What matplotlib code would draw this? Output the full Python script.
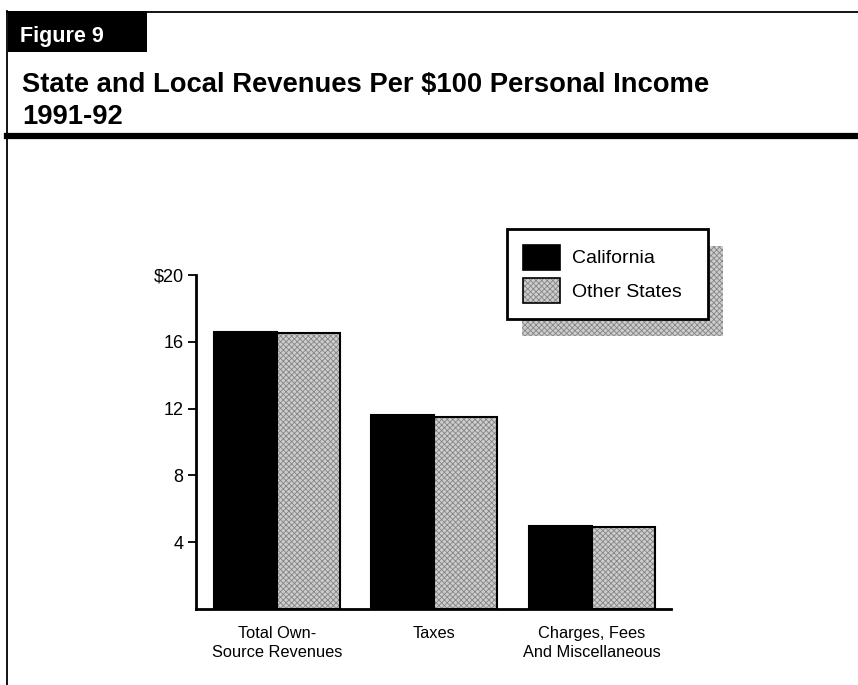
import matplotlib
matplotlib.use("Agg")
import matplotlib.pyplot as plt
from matplotlib.patches import Rectangle, Patch
from matplotlib.legend_handler import HandlerTuple
from matplotlib.lines import Line2D

plt.rcParams['font.family'] = ['Liberation Sans', 'DejaVu Sans']
plt.rcParams['hatch.linewidth'] = 0.6

# Data: dollars of revenue per $100 of personal income, 1991-92
categories = ["Total Own-\nSource Revenues", "Taxes", "Charges, Fees\nAnd Miscellaneous"]
california = [16.6, 11.6, 5.0]
other_states = [16.5, 11.5, 4.9]
series_names = ["California", "Other States"]
y_ticks = [4, 8, 12, 16, 20]
y_tick_labels = ["4", "8", "12", "16", "$20"]

W, H = 858, 685
fig = plt.figure(figsize=(W / 100, H / 100), dpi=100)


def fx(px):
    return px / W


def fy(py):
    return 1 - py / H


GRAY_FACE = "#cdcdcd"
GRAY_HATCH = "#858585"

# Page furniture: frame lines and the "Figure 9" tab
fig.add_artist(Line2D([fx(7), 1.0], [fy(12), fy(12)], color="black", lw=1.3))
fig.add_artist(Line2D([fx(7), fx(7)], [fy(11), 0.0], color="black", lw=1.3))
fig.add_artist(Line2D([fx(7), 1.0], [fy(136), fy(136)], color="black", lw=4.5))
fig.add_artist(Rectangle((fx(8), fy(52)), fx(147) - fx(8), fy(11) - fy(52),
                         transform=fig.transFigure, facecolor="black", edgecolor="none"))
fig.text(fx(20), fy(42), "Figure 9", color="white", fontsize=15.5, fontweight="bold",
         va="baseline", ha="left")
fig.text(fx(22), fy(92), "State and Local Revenues Per $100 Personal Income",
         fontsize=19.75, fontweight="bold", va="baseline", ha="left")
fig.text(fx(22), fy(124), "1991-92", fontsize=19.75, fontweight="bold",
         va="baseline", ha="left")

# Plot area
ax = fig.add_axes([fx(196), fy(609), fx(671) - fx(196), fy(275) - fy(609)])
x = list(range(len(categories)))
bw = 0.4
xl = [i - bw / 2 for i in x]
xr = [i + bw / 2 for i in x]

ax.bar(xl, california, width=bw, color="black", edgecolor="black", linewidth=1.5, zorder=2)
ax.bar(xr, other_states, width=bw, color=GRAY_FACE, edgecolor=GRAY_HATCH,
       hatch="xxxxxx", linewidth=0, zorder=2)
ax.bar(xr, other_states, width=bw, fill=False, edgecolor="black", linewidth=1.5, zorder=3)

ax.set_xlim(-0.514, 2.502)
ax.set_ylim(0, 20)
ax.set_yticks(y_ticks)
ax.set_yticklabels(y_tick_labels)
ax.set_xticks(x)
ax.set_xticklabels(categories, fontsize=11.8, linespacing=1.4)
ax.tick_params(axis="y", direction="out", length=6, width=1.3, labelsize=13, pad=3)
ax.tick_params(axis="x", length=0, pad=12)
for s in ("top", "right"):
    ax.spines[s].set_visible(False)
for s in ("left", "bottom"):
    ax.spines[s].set_linewidth(2)

# Legend with a dithered drop shadow
h_ca = Patch(facecolor="black", edgecolor="black", linewidth=1.2)
h_os = (Patch(facecolor=GRAY_FACE, edgecolor=GRAY_HATCH, hatch="xxxxxx", linewidth=0),
        Patch(fill=False, edgecolor="black", linewidth=1.2))
leg_w = fx(708) - fx(507)
leg = fig.legend([h_ca, h_os], series_names, loc="upper left", mode="expand",
                 bbox_to_anchor=(fx(507), fy(229) - 0.1, leg_w, 0.1),
                 bbox_transform=fig.transFigure,
                 fontsize=14, handlelength=1.95, handleheight=1.6, labelspacing=0.45,
                 handletextpad=0.6, borderpad=0.8, borderaxespad=0, fancybox=False,
                 framealpha=1, edgecolor="black",
                 handler_map={tuple: HandlerTuple(ndivide=1, pad=0)})
leg.get_frame().set_linewidth(2)
leg.set_zorder(5)

fig.canvas.draw()
bb = leg.get_window_extent().transformed(fig.transFigure.inverted())
sh = Rectangle((bb.x0 + fx(15), bb.y0 - 17 / H), bb.width, bb.height,
               transform=fig.transFigure, facecolor=GRAY_FACE, edgecolor=GRAY_HATCH,
               hatch="xxxxxx", linewidth=0, zorder=4)
fig.add_artist(sh)

fig.savefig("out.png", dpi=100)
